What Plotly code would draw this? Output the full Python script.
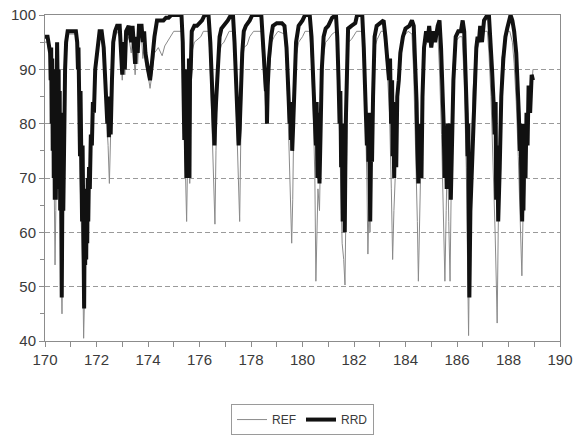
import plotly.graph_objects as go

# Reference run (REF): time (x) and storage level in percent (y)
ref_x = [
    170.00, 170.10, 170.15, 170.20, 170.25, 170.30, 170.35, 170.39, 170.42, 170.45,
    170.47, 170.50, 170.55, 170.60, 170.66, 170.70, 170.75, 170.80, 170.85, 170.90,
    171.20, 171.25, 171.30, 171.36, 171.42, 171.47, 171.50, 171.53, 171.57, 171.62,
    171.66, 171.70, 171.78, 171.86, 171.95, 172.05, 172.12, 172.20, 172.28, 172.38,
    172.45, 172.50, 172.53, 172.58, 172.65, 172.72, 172.80, 172.90, 172.95, 173.00,
    173.05, 173.10, 173.15, 173.25, 173.35, 173.40, 173.50, 173.55, 173.60, 173.65,
    173.75, 173.80, 173.85, 173.90, 174.00, 174.08, 174.15, 174.25, 174.40, 174.55,
    174.65, 174.85, 175.00, 175.30, 175.35, 175.40, 175.45, 175.50, 175.54, 175.58,
    175.62, 175.66, 175.70, 175.80, 175.95, 176.05, 176.15, 176.35, 176.40, 176.48,
    176.55, 176.60, 176.64, 176.70, 176.78, 176.85, 176.95, 177.05, 177.15, 177.30,
    177.36, 177.42, 177.48, 177.53, 177.56, 177.60, 177.66, 177.72, 177.85, 177.95,
    178.10, 178.40, 178.45, 178.50, 178.55, 178.60, 178.65, 178.72, 178.80, 178.90,
    179.05, 179.30, 179.38, 179.45, 179.52, 179.58, 179.62, 179.66, 179.74, 179.85,
    180.00, 180.10, 180.28, 180.35, 180.42, 180.48, 180.52, 180.56, 180.60, 180.66,
    180.72, 180.80, 180.90, 181.00, 181.15, 181.30, 181.35, 181.42, 181.48, 181.54,
    181.60, 181.65, 181.69, 181.73, 181.78, 181.90, 182.10, 182.32, 182.38, 182.45,
    182.50, 182.54, 182.58, 182.62, 182.68, 182.74, 182.80, 182.90, 183.05, 183.15,
    183.22, 183.30, 183.38, 183.45, 183.50, 183.55, 183.60, 183.66, 183.74, 183.82,
    183.92, 184.10, 184.25, 184.32, 184.40, 184.46, 184.50, 184.55, 184.60, 184.66,
    184.72, 184.85, 185.00, 185.15, 185.25, 185.32, 185.40, 185.48, 185.53, 185.58,
    185.63, 185.68, 185.73, 185.78, 185.84, 185.92, 186.10, 186.20, 186.28, 186.36,
    186.42, 186.45, 186.49, 186.55, 186.62, 186.70, 186.80, 186.97, 187.18, 187.24,
    187.32, 187.40, 187.48, 187.53, 187.56, 187.60, 187.66, 187.74, 187.85, 187.95,
    188.05, 188.15, 188.22, 188.30, 188.38, 188.45, 188.52, 188.56, 188.62, 188.68,
    188.76, 188.84, 188.92, 188.95,
]
ref_y = [
    95.0, 95.0, 93.0, 92.0, 88.0, 84.0, 72.0, 54.0, 64.0, 78.0,
    94.0, 88.0, 70.0, 62.0, 45.0, 64.0, 80.0, 89.0, 95.0, 96.5,
    96.5, 94.0, 86.0, 70.0, 62.0, 52.0, 40.5, 48.0, 56.0, 58.0,
    60.0, 68.0, 77.0, 83.0, 89.0, 94.0, 96.5, 96.5, 93.0, 82.0,
    76.0, 69.0, 77.0, 84.0, 93.0, 96.0, 97.0, 96.0, 92.0, 88.0,
    93.0, 89.0, 95.0, 96.0, 93.0, 96.0, 89.0, 93.0, 91.0, 96.0,
    96.0, 92.0, 94.0, 91.0, 89.0, 86.5, 89.0, 93.0, 94.0, 92.5,
    94.3, 95.8, 97.0, 97.0, 92.0, 82.0, 70.0, 62.0, 74.0, 85.0,
    69.0, 85.0, 93.0, 95.0, 95.5, 96.0, 97.0, 97.0, 93.0, 82.0,
    70.0, 61.5, 75.0, 86.0, 93.0, 94.5, 95.0, 96.0, 97.0, 97.0,
    92.0, 84.0, 74.0, 65.0, 62.0, 76.0, 90.0, 94.0, 94.5, 96.0,
    97.0, 97.0, 93.0, 89.0, 85.0, 80.0, 86.0, 91.0, 95.0, 96.0,
    97.0, 96.5, 91.0, 80.0, 70.0, 58.0, 66.0, 80.0, 92.0, 95.0,
    96.0, 97.0, 97.0, 92.0, 82.0, 70.0, 51.0, 60.0, 68.0, 64.0,
    80.0, 92.0, 95.0, 95.5, 96.5, 97.0, 92.0, 82.0, 70.0, 58.0,
    55.0, 50.3, 66.0, 85.0, 95.0, 95.5, 97.0, 97.0, 91.0, 80.0,
    70.0, 56.0, 65.0, 60.0, 70.0, 82.0, 94.0, 95.5, 97.0, 97.0,
    94.0, 89.0, 82.0, 68.0, 55.0, 64.0, 70.0, 82.0, 90.0, 94.0,
    96.0, 97.0, 96.5, 89.0, 75.0, 62.0, 51.0, 62.0, 70.0, 88.0,
    94.0, 95.0, 95.0, 96.0, 97.0, 90.0, 78.0, 64.0, 51.0, 64.0,
    76.0, 62.0, 51.0, 70.0, 90.0, 95.0, 96.0, 96.0, 88.0, 72.0,
    55.0, 41.0, 60.0, 72.0, 86.0, 92.0, 94.0, 97.0, 97.0, 93.0,
    85.0, 74.0, 60.0, 50.0, 43.3, 60.0, 80.0, 92.0, 95.0, 97.0,
    97.0, 95.0, 91.0, 84.0, 74.0, 62.0, 52.0, 62.0, 66.0, 72.0,
    82.0, 86.0, 88.0, 90.0,
]

# Reduced-demand run (RRD)
rrd_x = [
    170.00, 170.10, 170.15, 170.20, 170.22, 170.24, 170.26, 170.28, 170.30, 170.32,
    170.34, 170.36, 170.38, 170.40, 170.42, 170.44, 170.46, 170.47, 170.49, 170.51,
    170.53, 170.55, 170.57, 170.59, 170.61, 170.63, 170.65, 170.67, 170.69, 170.71,
    170.73, 170.75, 170.78, 170.82, 170.88, 170.95, 171.00, 171.10, 171.20, 171.25,
    171.28, 171.30, 171.32, 171.34, 171.36, 171.38, 171.40, 171.42, 171.44, 171.46,
    171.48, 171.50, 171.52, 171.54, 171.56, 171.58, 171.60, 171.62, 171.64, 171.66,
    171.68, 171.71, 171.74, 171.78, 171.82, 171.86, 171.90, 171.95, 172.00, 172.05,
    172.12, 172.20, 172.28, 172.34, 172.38, 172.42, 172.45, 172.48, 172.52, 172.55,
    172.60, 172.65, 172.72, 172.80, 172.90, 172.95, 173.00, 173.05, 173.10, 173.15,
    173.25, 173.35, 173.40, 173.50, 173.55, 173.60, 173.65, 173.75, 173.80, 173.85,
    173.90, 174.00, 174.08, 174.15, 174.25, 174.35, 174.50, 174.60, 174.70, 174.80,
    174.90, 175.00, 175.30, 175.35, 175.37, 175.39, 175.41, 175.43, 175.45, 175.47,
    175.49, 175.51, 175.53, 175.55, 175.57, 175.59, 175.61, 175.63, 175.66, 175.70,
    175.80, 175.90, 176.00, 176.10, 176.20, 176.35, 176.42, 176.48, 176.52, 176.55,
    176.58, 176.62, 176.65, 176.70, 176.78, 176.85, 176.95, 177.10, 177.22, 177.30,
    177.36, 177.42, 177.47, 177.52, 177.56, 177.60, 177.66, 177.72, 177.80, 177.95,
    178.05, 178.40, 178.45, 178.50, 178.55, 178.58, 178.60, 178.62, 178.65, 178.70,
    178.78, 178.85, 179.00, 179.20, 179.30, 179.38, 179.45, 179.50, 179.53, 179.55,
    179.58, 179.60, 179.64, 179.68, 179.75, 179.85, 180.00, 180.10, 180.28, 180.35,
    180.42, 180.48, 180.52, 180.55, 180.58, 180.60, 180.62, 180.64, 180.66, 180.70,
    180.75, 180.82, 180.90, 181.00, 181.15, 181.30, 181.35, 181.40, 181.44, 181.47,
    181.50, 181.53, 181.56, 181.58, 181.60, 181.62, 181.64, 181.68, 181.72, 181.77,
    181.90, 182.05, 182.12, 182.32, 182.38, 182.43, 182.47, 182.50, 182.53, 182.56,
    182.58, 182.60, 182.63, 182.66, 182.70, 182.74, 182.80, 182.88, 183.00, 183.15,
    183.22, 183.30, 183.36, 183.40, 183.44, 183.48, 183.50, 183.52, 183.56, 183.60,
    183.64, 183.68, 183.74, 183.80, 183.90, 184.00, 184.15, 184.25, 184.32, 184.38,
    184.43, 184.46, 184.50, 184.52, 184.54, 184.58, 184.62, 184.66, 184.72, 184.80,
    184.85, 184.92, 185.00, 185.08, 185.15, 185.25, 185.32, 185.38, 185.44, 185.48,
    185.52, 185.56, 185.60, 185.64, 185.68, 185.72, 185.76, 185.80, 185.86, 185.95,
    186.05, 186.15, 186.22, 186.28, 186.34, 186.38, 186.41, 186.44, 186.46, 186.48,
    186.52, 186.56, 186.62, 186.68, 186.75, 186.80, 186.85, 186.90, 186.97, 187.05,
    187.18, 187.24, 187.30, 187.36, 187.42, 187.46, 187.50, 187.52, 187.54, 187.57,
    187.60, 187.66, 187.72, 187.80, 187.88, 187.95, 188.02, 188.08, 188.15, 188.22,
    188.30, 188.36, 188.40, 188.44, 188.47, 188.50, 188.53, 188.56, 188.58, 188.62,
    188.66, 188.70, 188.74, 188.78, 188.84, 188.90, 188.95,
]
rrd_y = [
    96.0, 96.0, 94.5, 93.0, 88.0, 94.0, 80.0, 92.0, 75.0, 90.0,
    70.0, 86.0, 66.0, 84.0, 66.0, 80.0, 90.0, 95.0, 88.0, 70.0,
    90.0, 68.0, 86.0, 64.0, 82.0, 66.0, 48.0, 68.0, 78.0, 64.0,
    80.0, 86.0, 90.0, 95.0, 97.0, 97.0, 97.0, 97.0, 97.0, 95.0,
    90.0, 94.0, 82.0, 90.0, 74.0, 86.0, 68.0, 82.0, 62.0, 76.0,
    56.0, 70.0, 46.0, 62.0, 54.0, 66.0, 55.0, 68.0, 58.0, 70.0,
    62.0, 72.0, 68.0, 78.0, 76.0, 84.0, 82.0, 90.0, 92.0, 95.0,
    97.0, 97.0, 94.0, 88.0, 84.0, 80.0, 85.0, 77.5, 83.0, 78.0,
    88.0, 95.0, 97.0, 98.0, 98.0, 93.0, 89.0, 95.0, 90.0, 97.0,
    98.0, 95.0, 98.0, 91.0, 96.0, 93.0, 98.0, 98.0, 95.0, 97.0,
    93.0, 90.0, 88.0, 91.0, 96.0, 99.0, 99.0, 99.0, 99.5, 99.5,
    100.0, 100.0, 100.0, 95.0, 85.0, 93.0, 77.0, 90.0, 76.0, 88.0,
    70.0, 85.0, 72.0, 90.0, 74.0, 92.0, 70.0, 88.0, 90.0, 97.0,
    98.0, 98.0, 98.5, 99.0, 100.0, 100.0, 95.0, 88.0, 82.0, 78.0,
    76.0, 82.0, 85.0, 90.0, 96.0, 97.5, 98.0, 99.0, 100.0, 100.0,
    95.0, 88.0, 82.0, 76.0, 79.0, 85.0, 93.0, 97.0, 98.0, 99.0,
    100.0, 100.0, 96.0, 92.0, 89.0, 86.0, 88.0, 80.0, 87.0, 92.0,
    96.0, 98.0, 98.5, 98.5, 98.0, 94.0, 86.0, 80.0, 84.0, 77.0,
    82.0, 75.0, 80.0, 88.0, 95.0, 98.0, 99.0, 100.0, 100.0, 96.0,
    88.0, 80.0, 76.0, 84.0, 70.0, 82.0, 72.0, 80.0, 69.0, 78.0,
    90.0, 96.0, 97.5, 98.0, 99.5, 100.0, 96.0, 88.0, 80.0, 86.0,
    72.0, 80.0, 62.0, 76.0, 66.0, 78.0, 60.0, 80.0, 92.0, 97.5,
    98.0, 98.5, 100.0, 100.0, 94.0, 87.0, 84.0, 76.0, 82.0, 73.0,
    82.0, 74.0, 62.0, 74.0, 73.0, 85.0, 96.0, 98.0, 98.5, 99.0,
    96.0, 92.0, 88.0, 92.0, 80.0, 88.0, 74.0, 84.0, 70.0, 82.0,
    72.0, 85.0, 88.0, 93.0, 96.0, 97.5, 98.0, 99.0, 98.0, 92.0,
    84.0, 76.0, 69.0, 80.0, 70.0, 78.0, 70.0, 85.0, 94.0, 97.0,
    95.0, 98.0, 94.0, 97.0, 95.0, 98.0, 99.0, 94.0, 86.0, 80.0,
    70.0, 78.0, 68.0, 80.0, 74.0, 80.0, 66.0, 76.0, 88.0, 96.0,
    97.0, 97.0, 99.0, 97.0, 90.0, 82.0, 74.0, 80.0, 62.0, 48.0,
    64.0, 70.0, 78.0, 88.0, 94.0, 96.0, 95.0, 98.0, 95.0, 99.0,
    100.0, 100.0, 96.0, 90.0, 84.0, 78.0, 84.0, 66.0, 76.0, 74.0,
    62.0, 72.0, 85.0, 92.0, 96.0, 97.5, 99.0, 100.0, 99.0, 97.0,
    93.0, 88.0, 82.0, 75.0, 80.0, 68.0, 62.0, 72.0, 64.0, 80.0,
    70.0, 82.0, 76.0, 87.0, 82.0, 89.0, 88.0, 91.0,
]

x_ticks = [170, 172, 174, 176, 178, 180, 182, 184, 186, 188, 190]
y_ticks = [40, 50, 60, 70, 80, 90, 100]

FONT = "Liberation Sans, Arial, sans-serif"
AXIS_GREY = "#8c8c8c"

fig = go.Figure()
fig.add_trace(go.Scatter(
    x=ref_x, y=ref_y, mode="lines", name="REF",
    line=dict(color="#8a8a8a", width=1), cliponaxis=False,
))
fig.add_trace(go.Scatter(
    x=rrd_x, y=rrd_y, mode="lines", name="RRD",
    line=dict(color="#111111", width=4), cliponaxis=False,
))

fig.update_layout(
    width=574, height=437,
    margin=dict(l=45, r=14, t=15, b=96, autoexpand=False),
    paper_bgcolor="white", plot_bgcolor="white",
    font=dict(family=FONT, size=15, color="#3a3a3a"),
    showlegend=True,
    legend=dict(
        orientation="h", x=0.5, xanchor="center", y=-0.241, yanchor="middle",
        bordercolor="#9a9a9a", borderwidth=1, bgcolor="white",
        font=dict(family=FONT, size=12, color="#3a3a3a"),
        itemwidth=30, tracegroupgap=0,
    ),
)
fig.update_xaxes(
    range=[170, 190], tickvals=x_ticks, showgrid=False, zeroline=False,
    automargin=False,
    showline=True, linecolor=AXIS_GREY, linewidth=1, mirror=True,
    ticks="outside", ticklen=5, tickcolor=AXIS_GREY,
    minor=dict(dtick=1, ticks="outside", ticklen=5, tickcolor=AXIS_GREY, showgrid=False),
)
fig.update_yaxes(
    range=[40, 100], tickvals=y_ticks, zeroline=False, automargin=False,
    showgrid=True, gridcolor="#9a9a9a", gridwidth=1, griddash="5px,3px",
    showline=True, linecolor=AXIS_GREY, linewidth=1, mirror=True,
    ticks="outside", ticklen=5, tickcolor=AXIS_GREY,
    minor=dict(dtick=5, ticks="outside", ticklen=4, tickcolor=AXIS_GREY, showgrid=False),
)

fig.write_html("out.html")
